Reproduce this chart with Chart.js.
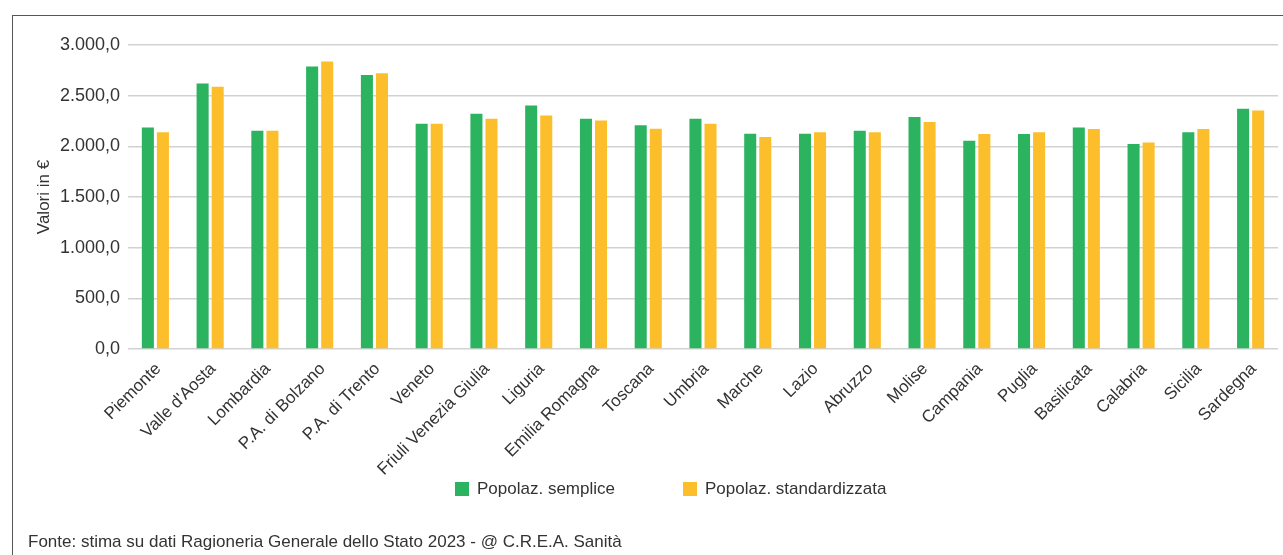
<!DOCTYPE html>
<html>
<head>
<meta charset="utf-8">
<script src="https://cdn.jsdelivr.net/npm/chart.js@4/dist/chart.umd.min.js"></script>
<style>
  html, body { margin: 0; padding: 0; background: #fff; }
  body { width: 1283px; height: 555px; position: relative; overflow: hidden;
         font-family: 'Liberation Sans', Arial, sans-serif; color: #333; }
  #frame { position: absolute; left: 12px; top: 15px; width: 1400px; height: 700px;
           border-top: 1px solid #555; border-left: 1px solid #555; }
  #chartWrap { position: absolute; left: 0; top: 0; width: 1283px; height: 555px; }
  #legend { position: absolute; left: 455px; top: 480px; display: flex; gap: 68px; font-size: 17px; line-height: 18px; }
  #legend .item { display: flex; align-items: center; white-space: nowrap; }
  #legend .box { width: 14px; height: 14px; margin-right: 8px; }
  #source { position: absolute; left: 28px; top: 532px; font-size: 17px; white-space: nowrap; }
</style>
</head>
<body>
<div id="frame"></div>
<div id="chartWrap"><canvas id="chart" width="1283" height="555"></canvas></div>
<div id="legend"></div>
<div id="source">Fonte: stima su dati Ragioneria Generale dello Stato 2023 - @ C.R.E.A. Sanità</div>
<script>
// Regioni
var regions = ['Piemonte', "Valle d'Aosta", 'Lombardia', 'P.A. di Bolzano', 'P.A. di Trento', 'Veneto',
  'Friuli Venezia Giulia', 'Liguria', 'Emilia Romagna', 'Toscana', 'Umbria', 'Marche', 'Lazio',
  'Abruzzo', 'Molise', 'Campania', 'Puglia', 'Basilicata', 'Calabria', 'Sicilia', 'Sardegna'];

// Valori in euro pro-capite
var popSemplice = [2187, 2620, 2154, 2787, 2705, 2223, 2322, 2403, 2272, 2207, 2272,
  2125, 2125, 2154, 2289, 2056, 2121, 2187, 2023, 2138, 2371];
var popStandard = [2138, 2587, 2154, 2836, 2721, 2223, 2272, 2305, 2256, 2174, 2223,
  2092, 2138, 2138, 2240, 2121, 2138, 2171, 2039, 2171, 2354];

var yTickValues = [0, 500, 1000, 1500, 2000, 2500, 3000];
var yTickLabels = ['0,0', '500,0', '1.000,0', '1.500,0', '2.000,0', '2.500,0', '3.000,0'];

var FONT = "'Liberation Sans', Arial, sans-serif";
var TEXT = '#333333';

// legend built in html from the chart's own legend items
var htmlLegend = {
  id: 'htmlLegend',
  afterUpdate: function(chart) {
    var el = document.getElementById('legend');
    el.innerHTML = '';
    var items = Chart.defaults.plugins.legend.labels.generateLabels(chart);
    items.forEach(function(item) {
      var div = document.createElement('div');
      div.className = 'item';
      var box = document.createElement('span');
      box.className = 'box';
      box.style.background = item.fillStyle;
      div.appendChild(box);
      div.appendChild(document.createTextNode(item.text));
      el.appendChild(div);
    });
  }
};

new Chart(document.getElementById('chart'), {
  type: 'bar',
  data: {
    labels: regions,
    datasets: [{
      label: 'Popolaz. semplice',
      data: popSemplice,
      backgroundColor: '#2bb35f',
      categoryPercentage: 0.55,
      barPercentage: 0.8
    }, {
      label: 'Popolaz. standardizzata',
      data: popStandard,
      backgroundColor: '#fdbe2b',
      categoryPercentage: 0.55,
      barPercentage: 0.8
    }]
  },
  options: {
    responsive: false,
    animation: false,
    layout: { padding: { left: 28, top: 45, right: 5, bottom: 66 } },
    plugins: {
      tooltip: { enabled: false },
      legend: { display: false }
    },
    scales: {
      x: {
        grid: { display: false },
        border: { display: false },
        ticks: {
          color: TEXT,
          font: { family: FONT, size: 17 },
          maxRotation: 45,
          minRotation: 45,
          padding: 2,
          labelOffset: 3,
          autoSkip: false
        },
        afterFit: function(scale) { scale.height = 140; }
      },
      y: {
        min: 0,
        max: 3000,
        afterBuildTicks: function(scale) {
          scale.ticks = yTickValues.map(function(v) { return { value: v }; });
        },
        grid: { color: '#d2d2d2', lineWidth: 1.5, drawTicks: false },
        border: { display: false },
        ticks: {
          color: TEXT,
          font: { family: FONT, size: 18 },
          padding: 8,
          callback: function(value) {
            var i = yTickValues.indexOf(value);
            return i >= 0 ? yTickLabels[i] : '';
          }
        },
        title: {
          display: true,
          text: 'Valori in €',
          color: TEXT,
          font: { family: FONT, size: 17 },
          padding: { top: 6, bottom: 0 }
        },
        afterFit: function(scale) { scale.width = 100; }
      }
    }
  },
  plugins: [htmlLegend]
});
</script>
</body>
</html>
